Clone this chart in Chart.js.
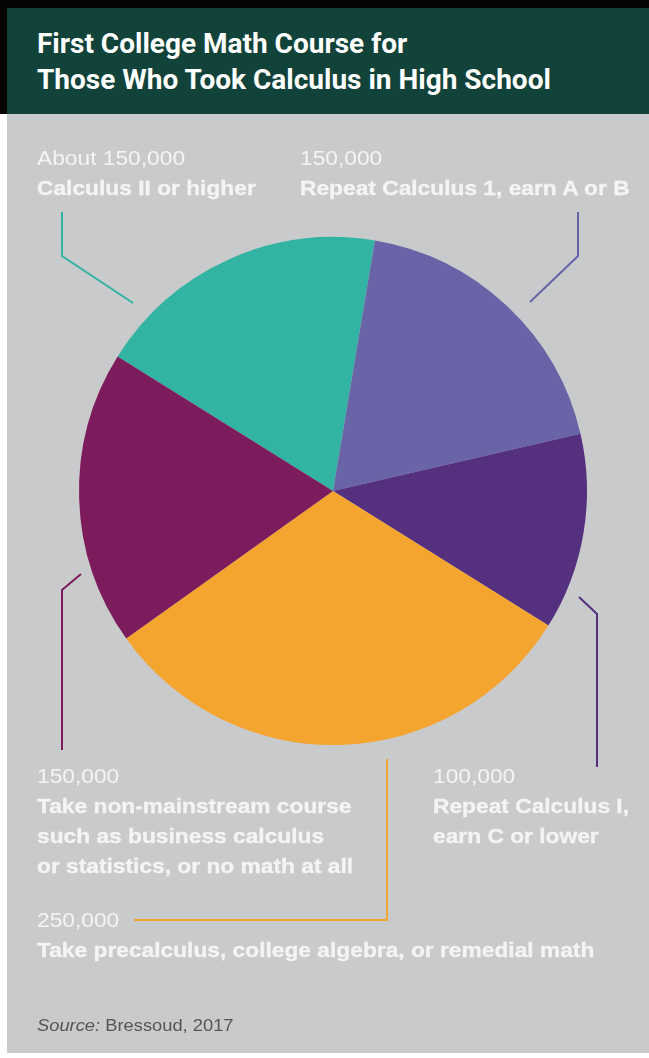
<!DOCTYPE html>
<html>
<head>
    <title>First College Math Course</title>
    <script src="https://cdn.jsdelivr.net/npm/chart.js@4/dist/chart.umd.min.js"></script>
    <style>
        html, body {
            margin: 0;
            padding: 0;
            background-color: #ffffff;
        }
        .page {
            position: relative;
            width: 649px;
            height: 1058px;
            overflow: hidden;
            font-family: 'Liberation Sans', Arial, sans-serif;
        }
        .topbar {
            position: absolute;
            left: 0; top: 0;
            width: 649px; height: 8px;
            background-color: #050505;
        }
        .sidebar {
            position: absolute;
            left: 0; top: 0;
            width: 7px; height: 114px;
            background-color: #050505;
        }
        .panel {
            position: absolute;
            left: 7px; top: 8px;
            width: 642px; height: 1045px;
            background-color: #c9cacc;
        }
        .header {
            position: absolute;
            left: 7px; top: 8px;
            width: 642px; height: 106px;
            background-color: #12433b;
        }
        .title {
            position: absolute;
            left: 37px;
            color: #ffffff;
            font-family: 'Liberation Sans Narrow', 'Roboto', sans-serif;
            font-weight: bold;
            font-size: 28px;
            white-space: nowrap;
            line-height: 1;
        }
        canvas {
            position: absolute;
            left: 0; top: 0;
        }
        .lbl {
            position: absolute;
            color: #f4f4f4;
            font-size: 20.5px;
            line-height: 30px;
            white-space: nowrap;
            transform: scaleX(1.11);
            transform-origin: left top;
        }
        .lbl b {
            font-weight: bold;
            -webkit-text-stroke: 0.3px #f4f4f4;
        }
        .source {
            position: absolute;
            left: 37px; top: 1016px;
            color: #555555;
            font-size: 16.5px;
            white-space: nowrap;
            transform: scaleX(1.11);
            transform-origin: left top;
        }
    </style>
</head>
<body>
<div class="page">
    <div class="panel"></div>
    <div class="header"></div>
    <div class="topbar"></div>
    <div class="sidebar"></div>
    <div class="title" style="top:30px">First College Math Course for</div>
    <div class="title" style="top:66px">Those Who Took Calculus in High School</div>

    <canvas id="pie" width="649" height="1058"></canvas>

    <div class="lbl" style="left:37px; top:143px">About 150,000<br><b>Calculus II or higher</b></div>
    <div class="lbl" style="left:300px; top:143px">150,000<br><b>Repeat Calculus 1, earn A or B</b></div>
    <div class="lbl" style="left:37px; top:761px">150,000<br><b>Take non-mainstream course<br>such as business calculus<br>or statistics, or no math at all</b></div>
    <div class="lbl" style="left:433px; top:761px">100,000<br><b>Repeat Calculus I,<br>earn C or lower</b></div>
    <div class="lbl" style="left:37px; top:905px">250,000<br><b>Take precalculus, college algebra, or remedial math</b></div>
    <div class="source"><i>Source:</i> Bressoud, 2017</div>
</div>

<script>
    // Students (approx.) by first college math course
    const categories = [
        'Calculus II or higher',
        'Repeat Calculus 1, earn A or B',
        'Repeat Calculus I, earn C or lower',
        'Take precalculus, college algebra, or remedial math',
        'Take non-mainstream course such as business calculus or statistics, or no math at all'
    ];
    const students = [150000, 150000, 100000, 250000, 150000];
    const sliceColors = ['#33b4a3', '#6963a7', '#54307e', '#f4a530', '#7d1c5c'];

    // leader lines (decoration) drawn on top of the canvas
    const leaders = [
        { color: '#33b4a3', pts: [[62, 212], [62, 256], [133, 303]] },
        { color: '#6963a7', pts: [[578, 212], [578, 256], [530, 302]] },
        { color: '#7d1c5c', pts: [[81, 574], [62, 590], [62, 750]] },
        { color: '#54307e', pts: [[579, 597], [597, 614], [597, 767]] },
        { color: '#f4a530', pts: [[387, 759], [387, 920], [134, 920]] }
    ];

    const leaderPlugin = {
        id: 'leaders',
        afterDraw(chart) {
            const c = chart.ctx;
            c.save();
            c.lineWidth = 2;
            leaders.forEach(l => {
                c.strokeStyle = l.color;
                c.beginPath();
                l.pts.forEach((p, i) => i ? c.lineTo(p[0], p[1]) : c.moveTo(p[0], p[1]));
                c.stroke();
            });
            c.restore();
        }
    };

    const chart = new Chart(document.getElementById('pie'), {
        type: 'pie',
        data: {
            labels: categories,
            datasets: [{
                data: students,
                backgroundColor: sliceColors,
                borderWidth: 0
            }]
        },
        options: {
            responsive: false,
            animation: false,
            rotation: -58,
            layout: {
                padding: { left: 79, top: 237, right: 62, bottom: 313 }
            },
            plugins: {
                legend: { display: false },
                tooltip: { enabled: false }
            }
        },
        plugins: [leaderPlugin]
    });
</script>
</body>
</html>
